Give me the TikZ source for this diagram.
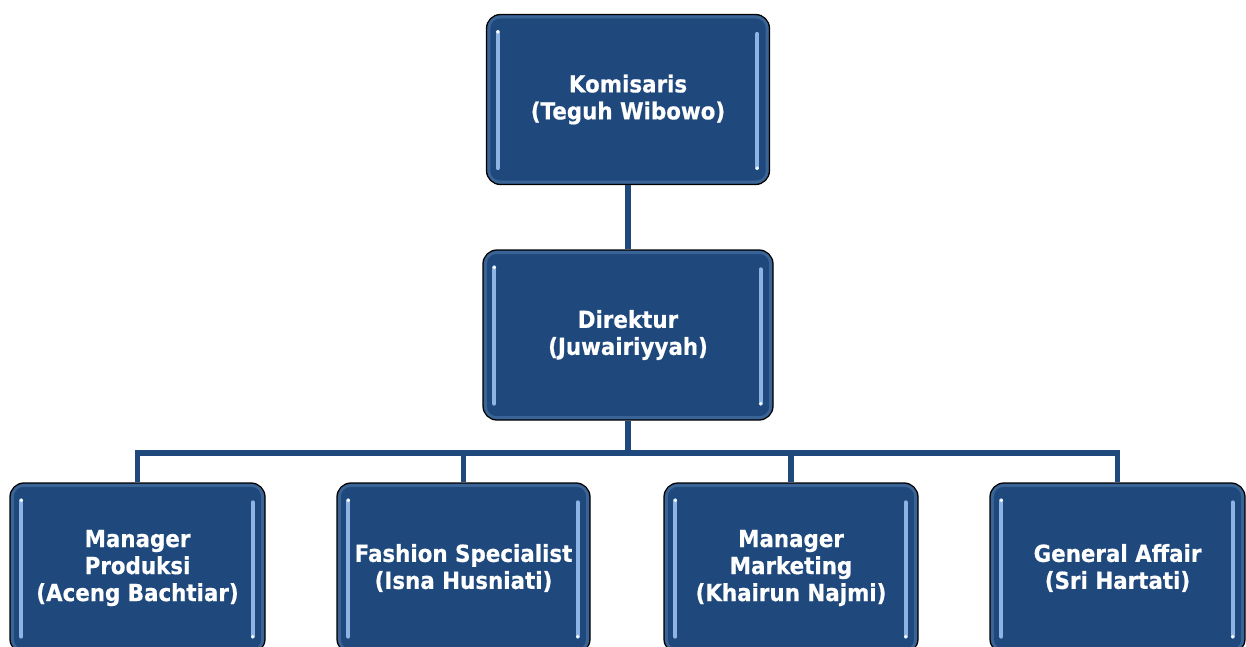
\documentclass[tikz,border=0pt]{standalone}
\usepackage{fontspec}
\setmainfont{DejaVu Sans}[FakeStretch=0.91, BoldFeatures={FakeBold=0.6}]
\definecolor{boxblue}{HTML}{1F497D}
\definecolor{glintblue}{HTML}{8DB4E2}
\tikzset{
  post/.style={rectangle, rounded corners=14pt, draw=black, line width=1.3pt,
    fill=boxblue, text=white, align=center, inner sep=0pt,
    font=\bfseries\fontsize{23.5}{27}\selectfont,
    minimum width=#1, minimum height=170pt},
  link/.style={draw=boxblue, line width=5.5pt, line join=miter},
  glint/.style={draw=glintblue, line width=4pt, line cap=round},
  bevel/.style={draw=glintblue, line width=3pt, opacity=0.25, rounded corners=11pt}
}
\begin{document}
\begin{tikzpicture}[x=1pt,y=-1pt]
        \useasboundingbox (0,0) rectangle (1246,646);
        \clip (0,0) rectangle (1246,646);
        % the posts
        \node[post=283pt] (kom)  at (628, 99.5)   {Komisaris\\(Teguh Wibowo)};
        \node[post=290pt] (dir)  at (628, 335)    {Direktur\\(Juwairiyyah)};
        \node[post=255pt] (prod) at (137.5, 568)  {Manager\\Produksi\\(Aceng Bachtiar)};
        \node[post=253pt] (fash) at (463.5, 568)  {Fashion Specialist\\(Isna Husniati)};
        \node[post=254pt] (mark) at (791, 568)    {Manager\\Marketing\\(Khairun Najmi)};
        \node[post=255pt] (ga)   at (1117.5, 568) {General Affair\\(Sri Hartati)};
        % the lines between them
        \coordinate (bus) at (dir.south |- 0,453);
        \draw[link] (kom.south) -- (dir.north);
        \draw[link] (dir.south) -- (bus);
        \draw[link] (prod.north) |- (bus);
        \draw[link] (fash.north) |- (bus);
        \draw[link] (mark.north) |- (bus);
        \draw[link] (ga.north)   |- (bus);
        % the glints inside the posts
        \foreach \n in {kom,dir,prod,fash,mark,ga} {
          \draw[bevel] ([shift={(3,3)}]\n.north west) rectangle ([shift={(-3,-3)}]\n.south east);
          \draw[glint] ([shift={(12,18)}]\n.north west) -- ([shift={(12,-17)}]\n.south west);
          \draw[glint] ([shift={(-13,20)}]\n.north east) -- ([shift={(-13,-17)}]\n.south east);
          \fill[white] ([shift={(12,18)}]\n.north west) circle (1.8);
          \fill[white] ([shift={(-13,-17)}]\n.south east) circle (1.8);
        }
      \end{tikzpicture}
\end{document}
